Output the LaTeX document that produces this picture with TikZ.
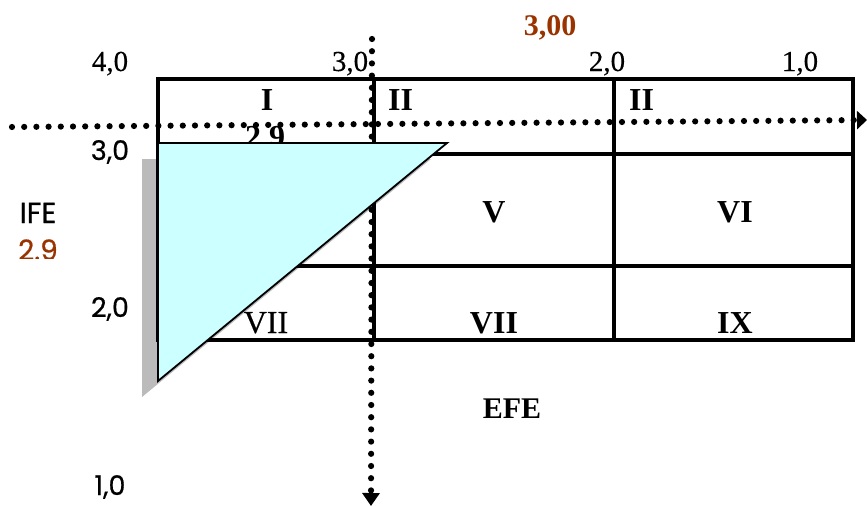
\documentclass[tikz,border=0pt]{standalone}
\usepackage{fontspec}
\setmainfont{Liberation Serif}
\newfontfamily\gothic[FakeBold=0.6]{Poppins}
\newfontfamily\serifheavy[FakeBold=0.4]{Liberation Serif}
\usetikzlibrary{arrows.meta}
\definecolor{brn}{RGB}{153,51,0}
\definecolor{tricyan}{RGB}{204,255,255}
\definecolor{shadowgray}{RGB}{187,187,187}
\begin{document}
\begin{tikzpicture}[x=1pt,y=-1pt,
  gridline/.style={line width=3.1pt},
  dotline/.style={line width=6.2pt,line cap=round,dash pattern=on 0pt off 12.2pt},
  numeral/.style={inner sep=0pt,font=\fontsize{32}{36}\selectfont\bfseries},
  toplab/.style={inner sep=0pt,anchor=base,font=\serifheavy\fontsize{29}{32}\selectfont},
  sidelab/.style={inner sep=0pt,anchor=base,font=\gothic\fontsize{27}{30}\selectfont},
]
\useasboundingbox (0,0) rectangle (867,506);
% shadow of triangle
\fill[shadowgray] (142,159) -- (431,159) -- (142,397) -- cycle;
% grid
\draw[gridline] (158,79) rectangle (853,340);
\draw[gridline] (374,79) -- (374,340);
\draw[gridline] (614,79) -- (614,340);
\draw[gridline] (158,154) -- (853,154);
\draw[gridline] (158,266) -- (853,266);
% numerals
\node[numeral,anchor=base] (n1) at (267,110) {I};
\node[numeral,anchor=base west] (n2) at (388,110) {II};
\node[numeral,anchor=base west] (n3) at (629,110) {II};
\node[numeral,anchor=base] (n5) at (494,222) {V};
\node[numeral,anchor=base] (n6) at (735,222) {VI};
\node[inner sep=0pt,anchor=base,font=\serifheavy\fontsize{32}{36}\selectfont] (n7) at (266,333) {VII};
\node[numeral,anchor=base] (n8) at (494,333) {VII};
\node[numeral,anchor=base] (n9) at (735,333) {IX};
\node[numeral,anchor=base] (v29) at (265,147) {2,9};
% axis labels
\node[toplab] (t4) at (110,71) {4,0};
\node[toplab] (t3) at (350,71) {3,0};
\node[toplab] (t2) at (607,71) {2,0};
\node[toplab] (t1) at (800,71) {1,0};
\node[inner sep=0pt,anchor=base,text=brn,font=\fontsize{30}{33}\selectfont\bfseries] (v300) at (550,35) {3,00};
\node[sidelab] (s3) at (110,160) {3,0};
\node[sidelab] (s2) at (110,317) {2,0};
\node[sidelab] (s1) at (110,495) {1,0};
\node[inner sep=0pt,anchor=base,font=\gothic\fontsize{29}{32}\selectfont] (ife) at (38,223) {IFE};
\begin{scope}
\clip (0,230) rectangle (120,258.5);
\node[inner sep=0pt,anchor=base,text=brn,font=\gothic\fontsize{28}{32}\selectfont] (v29l) at (38,260) {2.9};
\end{scope}
\node[inner sep=0pt,anchor=base,font=\fontsize{30}{34}\selectfont\bfseries] (efe) at (512,418) {EFE};
% dotted axes
\coordinate (vstart) at (372,39);
\coordinate (vend) at (371,506);
\coordinate (hstart) at (12,127);
\coordinate (hend) at (867,120);
\draw[dotline,-{Triangle[length=13pt,width=17pt]}] (vstart) -- (vend);
\draw[dotline,-{Triangle[length=10pt,width=18pt]}] (hstart) -- (hend);
% triangle
\filldraw[fill=tricyan,draw=black,line width=1.8pt,line join=miter] (158,143) -- (447,143) -- (158,381) -- cycle;
\end{tikzpicture}
\end{document}
